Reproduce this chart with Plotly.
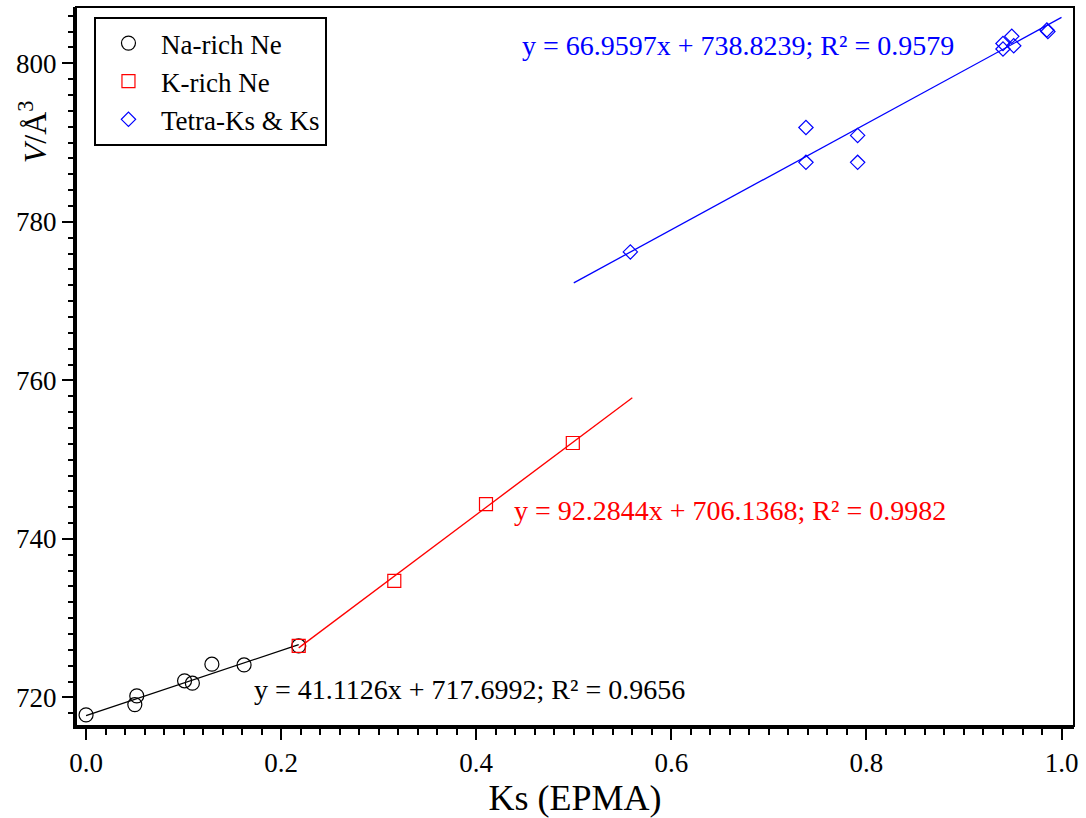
import plotly.graph_objects as go

# ---- data ----
na_x = [0.0, 0.050, 0.052, 0.101, 0.109, 0.129, 0.162, 0.218]
na_y = [717.8, 719.1, 720.2, 722.1, 721.8, 724.2, 724.1, 726.5]
k_x = [0.218, 0.316, 0.410, 0.499]
k_y = [726.5, 734.7, 744.4, 752.1]
ks_x = [0.558, 0.738, 0.738, 0.791, 0.791, 0.940, 0.940, 0.949, 0.951, 0.985, 0.986]
ks_y = [776.2, 791.9, 787.5, 790.9, 787.5, 802.5, 801.8, 803.4, 802.2, 804.2, 804.0]

# linear fits: slope, intercept, x-extent of drawn line
na_fit = (41.1126, 717.6992, [0.0, 0.218])
k_fit = (92.2844, 706.1368, [0.218, 0.56])
ks_fit = (66.9597, 738.8239, [0.5, 1.0])

na_label = "y = 41.1126x + 717.6992; R² = 0.9656"
k_label = "y = 92.2844x + 706.1368; R² = 0.9982"
ks_label = "y = 66.9597x + 738.8239; R² = 0.9579"

FONT = "Liberation Serif, Times New Roman, Times, serif"
XR = [-0.0103, 1.0128]
YR = [716.4, 807.1]


def fit_line(fit):
    m, b, xs = fit
    return xs, [m * x + b for x in xs]


fig = go.Figure()

lx, ly = fit_line(na_fit)
fig.add_trace(go.Scatter(x=lx, y=ly, mode="lines", line=dict(color="black", width=1.3),
                         showlegend=False, hoverinfo="skip"))
fig.add_trace(go.Scatter(x=na_x, y=na_y, mode="markers", name="Na-rich Ne",
                         marker=dict(symbol="circle-open", size=14, color="black",
                                     line=dict(width=1.2, color="black"))))
lx, ly = fit_line(k_fit)
fig.add_trace(go.Scatter(x=lx, y=ly, mode="lines", line=dict(color="#ff0000", width=1.3),
                         showlegend=False, hoverinfo="skip"))
fig.add_trace(go.Scatter(x=k_x, y=k_y, mode="markers", name="K-rich Ne",
                         marker=dict(symbol="square-open", size=13, color="#ff0000",
                                     line=dict(width=1.2, color="#ff0000"))))
lx, ly = fit_line(ks_fit)
fig.add_trace(go.Scatter(x=lx, y=ly, mode="lines", line=dict(color="#0000ff", width=1.3),
                         showlegend=False, hoverinfo="skip"))
fig.add_trace(go.Scatter(x=ks_x, y=ks_y, mode="markers", name="Tetra-Ks &amp; Ks",
                         marker=dict(symbol="diamond-open", size=11, color="#0000ff",
                                     line=dict(width=1.2, color="#0000ff"))))

axis_common = dict(showgrid=False, zeroline=False)

fig.update_layout(
    width=1086, height=818,
    margin=dict(l=76, r=12, t=7, b=92),
    paper_bgcolor="white", plot_bgcolor="white",
    font=dict(family=FONT, size=27, color="black"),
    showlegend=True,
    legend=dict(x=0.018, y=0.986, xanchor="left", yanchor="top",
                bgcolor="white", bordercolor="black", borderwidth=2,
                font=dict(family=FONT, size=27, color="black"),
                itemwidth=55, tracegroupgap=0),
    xaxis=dict(range=XR, showline=True, linewidth=3, linecolor="black",
               ticks="outside", ticklen=11, tickwidth=2, tickcolor="black",
               tick0=0, dtick=0.2, tickformat=".1f",
               minor=dict(ticks="outside", ticklen=6, tickwidth=2, tickcolor="black", dtick=0.02),
               tickfont=dict(family=FONT, size=27, color="black"),
               title=dict(text="Ks (EPMA)", font=dict(family=FONT, size=36, color="black"), standoff=0),
               **axis_common),
    xaxis2=dict(range=XR, overlaying="x", anchor="y", side="bottom",
                ticks="inside", ticklen=11, tickwidth=2, tickcolor="black",
                tick0=0, dtick=0.2, showticklabels=False,
                minor=dict(ticks="inside", ticklen=6, tickwidth=2, tickcolor="black", dtick=0.02),
                **axis_common),
    xaxis3=dict(range=XR, overlaying="x", anchor="y", side="bottom",
                ticks="outside", ticklen=8, tickwidth=2, tickcolor="black",
                tick0=0.1, dtick=0.2, showticklabels=False, **axis_common),
    xaxis4=dict(range=XR, overlaying="x", anchor="y", side="bottom",
                ticks="inside", ticklen=8, tickwidth=2, tickcolor="black",
                tick0=0.1, dtick=0.2, showticklabels=False, **axis_common),
    yaxis=dict(range=YR, showline=True, linewidth=3, linecolor="black",
               ticks="outside", ticklen=11, tickwidth=2, tickcolor="black",
               tick0=720, dtick=20,
               minor=dict(ticks="outside", ticklen=5, tickwidth=2, tickcolor="black", dtick=2),
               tickfont=dict(family=FONT, size=27, color="black"),
               **axis_common),
    yaxis2=dict(range=YR, overlaying="y", anchor="x", side="left",
                ticks="inside", ticklen=10, tickwidth=2, tickcolor="black",
                tick0=720, dtick=20, showticklabels=False,
                minor=dict(ticks="inside", ticklen=5, tickwidth=2, tickcolor="black", dtick=2),
                **axis_common),
)

# frame (top / right border)
fig.add_shape(type="rect", xref="paper", yref="paper", x0=0, x1=1, y0=0, y1=1,
              line=dict(color="black", width=2), layer="above")

# y-axis title
fig.add_annotation(text="<i>V</i>/Å<sup>3</sup>", xref="paper", yref="paper",
                   x=-0.043, y=0.826, xanchor="center", yanchor="middle",
                   textangle=-90, showarrow=False,
                   font=dict(family=FONT, size=32, color="black"))

# fit equations
fig.add_annotation(text=ks_label, x=0.4449, y=802.2, xref="x", yref="y",
                   xanchor="left", yanchor="middle", showarrow=False,
                   font=dict(family=FONT, size=28, color="#0000ff"))
fig.add_annotation(text=k_label, x=0.4367, y=743.6, xref="x", yref="y",
                   xanchor="left", yanchor="middle", showarrow=False,
                   font=dict(family=FONT, size=28, color="#ff0000"))
fig.add_annotation(text=na_label, x=0.1699, y=721.0, xref="x", yref="y",
                   xanchor="left", yanchor="middle", showarrow=False,
                   font=dict(family=FONT, size=28, color="black"))

fig.write_html("out.html")
